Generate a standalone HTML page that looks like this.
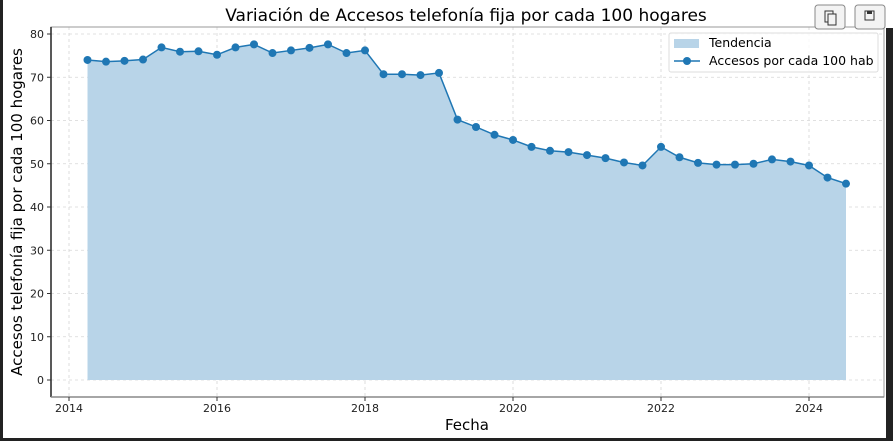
<!DOCTYPE html>
<html><head><meta charset="utf-8"><style>
body{margin:0;background:#fff;width:893px;height:441px;overflow:hidden;font-family:"DejaVu Sans","Liberation Sans",sans-serif;}
</style></head><body>
<svg width="893" height="441" xmlns="http://www.w3.org/2000/svg">
<rect x="0" y="0" width="893" height="441" fill="#fff"/>
<rect x="0" y="0" width="3" height="441" fill="#222"/>
<rect x="0" y="438" width="893" height="3" fill="#222"/>
<rect x="886" y="28" width="7" height="413" fill="#222"/>
<text x="466" y="21" font-size="17" text-anchor="middle" fill="#000">Variación de Accesos telefonía fija por cada 100 hogares</text>
<g id="grid"></g>
<g id="plot"></g>
<rect x="51" y="27" width="833" height="370" fill="none" stroke="#999" stroke-width="1"/>
<line x1="51" y1="27" x2="51" y2="397" stroke="#222" stroke-width="1.5"/>
<line x1="51" y1="397" x2="884" y2="397" stroke="#888" stroke-width="1.5"/>
<g id="ticks"></g>
<text x="467" y="430" font-size="15" text-anchor="middle">Fecha</text>
<text transform="translate(22,212) rotate(-90)" font-size="15" text-anchor="middle">Accesos telefonía fija por cada 100 hogares</text>
<g>
<rect x="669" y="33" width="209" height="39" fill="#fff" fill-opacity="0.85" stroke="#ddd" rx="2"/>
<rect x="674" y="39" width="25" height="9" fill="#b8d4e8"/>
<text x="709" y="47" font-size="12.5">Tendencia</text>
<line x1="674" y1="61" x2="700" y2="61" stroke="#1f77b4" stroke-width="1.5"/>
<circle cx="687" cy="61" r="4" fill="#1f77b4"/>
<text x="709" y="65" font-size="12.5">Accesos por cada 100 hab</text>
</g>
<g><rect x="815" y="5" width="30" height="24" rx="3" fill="#f3f3f3" stroke="#888"/><rect x="825" y="11" width="8" height="11" fill="none" stroke="#333"/><rect x="828" y="14" width="8" height="11" fill="#f3f3f3" stroke="#333"/></g>
<g><rect x="855" y="5" width="30" height="24" rx="3" fill="#f3f3f3" stroke="#888"/><rect x="865" y="11" width="9" height="9" fill="none" stroke="#333"/><rect x="867" y="11" width="5" height="3" fill="#333"/></g>
</svg>
<script>
const dates=[2014.25,2014.5,2014.75,2015,2015.25,2015.5,2015.75,2016,2016.25,2016.5,2016.75,2017,2017.25,2017.5,2017.75,2018,2018.25,2018.5,2018.75,2019,2019.25,2019.5,2019.75,2020,2020.25,2020.5,2020.75,2021,2021.25,2021.5,2021.75,2022,2022.25,2022.5,2022.75,2023,2023.25,2023.5,2023.75,2024,2024.25,2024.5];
const values=[74.0,73.6,73.8,74.1,76.9,75.9,76.0,75.2,76.9,77.6,75.6,76.2,76.8,77.6,75.6,76.2,70.7,70.7,70.5,71.0,60.2,58.5,56.7,55.5,53.9,53.0,52.7,52.0,51.3,50.3,49.6,53.9,51.5,50.2,49.8,49.8,50.0,51.0,50.5,49.6,46.8,45.4];
const xTicks=[2014,2016,2018,2020,2022,2024];
const yTicks=[0,10,20,30,40,50,60,70,80];
const X=v=>69+(v-2014)*74;
const Y=v=>380-v*4.325;
const NS='http://www.w3.org/2000/svg';
function mk(p,tag,at){const e=document.createElementNS(NS,tag);for(const k in at)e.setAttribute(k,at[k]);p.appendChild(e);return e;}
const grid=document.getElementById('grid'),plot=document.getElementById('plot'),ticks=document.getElementById('ticks');
xTicks.forEach(t=>{
 const l=mk(grid,'line',{x1:X(t),x2:X(t),y1:27,y2:397,stroke:'#d6d6d6','stroke-dasharray':'3,3','stroke-width':0.8});
 
 
 mk(ticks,'line',{x1:X(t),x2:X(t),y1:397,y2:401,stroke:'#333'});
 const tx=mk(ticks,'text',{x:X(t),y:412,'font-size':11,'text-anchor':'middle',fill:'#222'});
 tx.textContent=t;
 
 
});
yTicks.forEach(t=>{
 const l=mk(grid,'line',{x1:51,x2:884,y1:Y(t),y2:Y(t),stroke:'#d6d6d6','stroke-dasharray':'3,3','stroke-width':0.8});
 
 
 mk(ticks,'line',{x1:47,x2:51,y1:Y(t),y2:Y(t),stroke:'#333'});
 const tx=mk(ticks,'text',{x:44,y:Y(t)+4,'font-size':11,'text-anchor':'end',fill:'#222'});
 tx.textContent=t;
 
 
});
let d='M'+X(dates[0])+','+Y(0);
dates.forEach((t,i)=>d+=' L'+X(t)+','+Y(values[i]));
d+=' L'+X(dates[dates.length-1])+','+Y(0)+'Z';
const area=mk(plot,'path',{d:d,fill:'#b8d4e8'});


const line=mk(plot,'polyline',{points:dates.map((t,i)=>X(t)+','+Y(values[i])).join(' '),fill:'none',stroke:'#1f77b4','stroke-width':1.5});


dates.forEach((t,i)=>{
 const c=mk(plot,'circle',{cx:X(t),cy:Y(values[i]),r:4,fill:'#1f77b4'});
 
 
});
</script>
</body></html>
